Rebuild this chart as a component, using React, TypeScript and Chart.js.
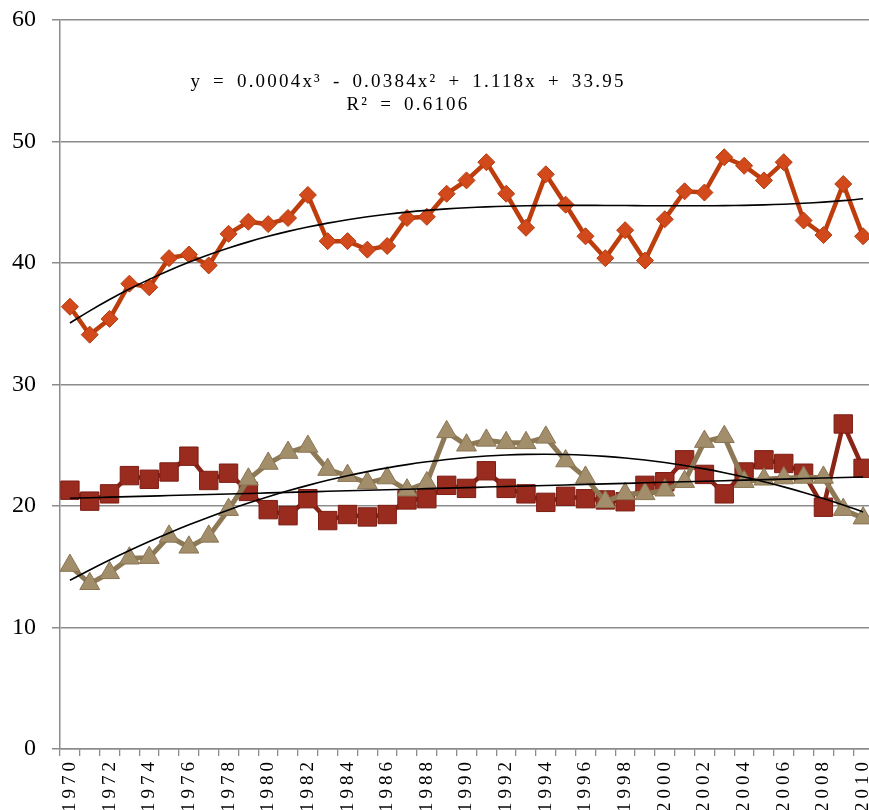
import React, { useEffect, useRef } from "react";
import { Chart, registerables, CategoryScale } from "chart.js";

Chart.register(...registerables);

// ---------- data ----------
const years = [
  "1970", "1971", "1972", "1973", "1974", "1975", "1976", "1977", "1978", "1979",
  "1980", "1981", "1982", "1983", "1984", "1985", "1986", "1987", "1988", "1989",
  "1990", "1991", "1992", "1993", "1994", "1995", "1996", "1997", "1998", "1999",
  "2000", "2001", "2002", "2003", "2004", "2005", "2006", "2007", "2008", "2009",
  "2010",
];

const seriesOrange = [
  36.4, 34.1, 35.4, 38.3, 38.0, 40.4, 40.7, 39.8, 42.4, 43.4,
  43.2, 43.7, 45.6, 41.8, 41.8, 41.1, 41.4, 43.7, 43.8, 45.7,
  46.8, 48.3, 45.7, 42.9, 47.3, 44.8, 42.2, 40.4, 42.7, 40.2,
  43.6, 45.9, 45.8, 48.7, 48.0, 46.8, 48.3, 43.5, 42.3, 46.5,
  42.2,
];

const seriesRed = [
  21.3, 20.4, 21.0, 22.5, 22.2, 22.8, 24.1, 22.1, 22.7, 21.2,
  19.7, 19.2, 20.6, 18.8, 19.3, 19.1, 19.3, 20.5, 20.6, 21.7,
  21.45, 22.9, 21.45, 21.0, 20.3, 20.8, 20.6, 20.5, 20.35, 21.7,
  22.0, 23.8, 22.6, 21.0, 22.8, 23.8, 23.5, 22.7, 19.9, 26.75,
  23.1,
];

const seriesTan = [
  15.1, 13.6, 14.5, 15.7, 15.75, 17.5, 16.6, 17.5, 19.7, 22.2,
  23.5, 24.4, 24.9, 23.0, 22.5, 21.9, 22.3, 21.3, 21.9, 26.1,
  25.0, 25.4, 25.2, 25.2, 25.65, 23.7, 22.35, 20.35, 21.0, 21.0,
  21.3, 22.0, 25.3, 25.7, 22.0, 22.2, 22.3, 22.35, 22.35, 19.7,
  19.0,
];

const yTickValues = [0, 10, 20, 30, 40, 50, 60];

const equationLines = [
  "y = 0.0004x\u00B3 - 0.0384x\u00B2 + 1.118x + 33.95",
  "R\u00B2 = 0.6106",
];

// ---------- helpers ----------
function polyfit(ys: number[], degree: number): number[] {
  const n = degree + 1;
  const A: number[][] = Array.from({ length: n }, () => new Array(n + 1).fill(0));
  ys.forEach((y, i) => {
    const x = i + 1;
    for (let r = 0; r < n; r++) {
      for (let c = 0; c < n; c++) A[r][c] += Math.pow(x, r + c);
      A[r][n] += y * Math.pow(x, r);
    }
  });
  for (let col = 0; col < n; col++) {
    let piv = col;
    for (let r = col + 1; r < n; r++) if (Math.abs(A[r][col]) > Math.abs(A[piv][col])) piv = r;
    [A[col], A[piv]] = [A[piv], A[col]];
    for (let r = 0; r < n; r++) {
      if (r === col) continue;
      const f = A[r][col] / A[col][col];
      for (let c = col; c <= n; c++) A[r][c] -= f * A[col][c];
    }
  }
  return A.map((row, i) => row[n] / row[i]);
}

function trend(ys: number[], degree: number): number[] {
  const coef = polyfit(ys, degree);
  return ys.map((_, i) => coef.reduce((s, c, k) => s + c * Math.pow(i + 1, k), 0));
}

class SpacedCategoryScale extends CategoryScale {
  static id = "spacedCategory";
  static defaults = CategoryScale.defaults;
  _calculatePadding() {
    const s: any = this;
    s.paddingLeft = 0;
    s.paddingRight = 0;
    s.paddingTop = 0;
    s.paddingBottom = 0;
  }
  drawLabels(area: any) {
    const ctx: any = (this as any).ctx;
    ctx.save();
    ctx.letterSpacing = "4px";
    // @ts-ignore
    super.drawLabels(area);
    ctx.restore();
  }
}
Chart.register(SpacedCategoryScale as any);

const FONT = "'Liberation Serif', 'Times New Roman', serif";
const GRID = "#8c8c8c";

const equationPlugin = {
  id: "equation",
  afterDraw(chart: any) {
    const ctx = chart.ctx;
    ctx.save();
    ctx.font = `19px ${FONT}`;
    (ctx as any).letterSpacing = "2.2px";
    (ctx as any).wordSpacing = "4px";
    ctx.fillStyle = "#000";
    ctx.textAlign = "center";
    ctx.textBaseline = "alphabetic";
    ctx.fillText(equationLines[0], 408, 87);
    ctx.fillText(equationLines[1], 408, 110);
    ctx.restore();
  },
};

export default function App() {
  const ref = useRef<HTMLCanvasElement | null>(null);

  useEffect(() => {
    document.body.style.margin = "0";
    document.body.style.overflow = "hidden";
    const canvas = ref.current;
    if (!canvas) return;

    const trendStyle = {
      type: "line" as const,
      borderColor: "#000",
      borderWidth: 1.6,
      pointRadius: 0,
      pointHoverRadius: 0,
      fill: false,
      tension: 0.4,
      order: 0,
      clip: false as any,
    };

    const chart = new Chart(canvas, {
      type: "line",
      data: {
        labels: years,
        datasets: [
          {
            label: "orange",
            data: seriesOrange,
            borderColor: "#BE3D0D",
            borderWidth: 4.5,
            backgroundColor: "#D24A1B",
            pointStyle: "rectRot",
            pointRadius: 8.5,
            pointBackgroundColor: "#D24A1B",
            pointBorderColor: "#B33A0E",
            pointBorderWidth: 1,
            order: 1,
            clip: false as any,
          },
          {
            label: "tan",
            data: seriesTan,
            borderColor: "#8E7956",
            borderWidth: 5,
            backgroundColor: "#A38E6C",
            pointStyle: "triangle",
            pointRadius: 11.5,
            pointBackgroundColor: "#A38E6C",
            pointBorderColor: "#8A7553",
            pointBorderWidth: 1,
            order: 2,
            clip: false as any,
          },
          {
            label: "red",
            data: seriesRed,
            borderColor: "#8A2417",
            borderWidth: 4.5,
            backgroundColor: "#9A2B1F",
            pointStyle: "rect",
            pointRadius: 13,
            pointBackgroundColor: "#9A2B1F",
            pointBorderColor: "#7C1E14",
            pointBorderWidth: 1,
            order: 3,
            clip: false as any,
          },
          { ...trendStyle, label: "trendOrange", data: trend(seriesOrange, 3) },
          { ...trendStyle, label: "trendTan", data: trend(seriesTan, 2) },
          { ...trendStyle, label: "trendRed", data: trend(seriesRed, 1) },
        ],
      },
      options: {
        responsive: false,
        animation: false,
        devicePixelRatio: 1,
        layout: { autoPadding: false, padding: { top: 20, left: 0, right: 0, bottom: 0 } },
        plugins: {
          legend: { display: false },
          tooltip: { enabled: false },
        },
        scales: {
          x: {
            type: "spacedCategory" as any,
            offset: true,
            grid: {
              display: true,
              drawOnChartArea: false,
              drawTicks: true,
              tickLength: 7,
              offset: true,
              color: GRID,
              lineWidth: 1.3,
            },
            border: { display: true, color: GRID, width: 1.5 },
            ticks: {
              autoSkip: false,
              maxRotation: 90,
              minRotation: 90,
              padding: 2,
              color: "#000",
              font: { family: FONT, size: 19 },
              callback: (_v: any, i: number) => (i % 2 === 0 ? years[i] : ""),
            },
            afterFit: (s: any) => {
              s.height = 61;
              s.paddingLeft = 0;
              s.paddingRight = 0;
            },
          } as any,
          y: {
            min: yTickValues[0],
            max: yTickValues[yTickValues.length - 1],
            afterBuildTicks: (s: any) => {
              s.ticks = yTickValues.map((v) => ({ value: v }));
            },
            grid: {
              color: GRID,
              lineWidth: 1.5,
              drawTicks: true,
              tickLength: 8,
            },
            border: { display: true, color: GRID, width: 1.5 },
            ticks: {
              padding: 16,
              color: "#000",
              font: { family: FONT, size: 24 },
            },
            afterFit: (s: any) => {
              s.width = 60;
              s.paddingTop = 0;
              s.paddingBottom = 0;
            },
          },
        },
      },
      plugins: [equationPlugin],
    });

    return () => chart.destroy();
  }, []);

  return (
    <div style={{ width: 869, height: 810, overflow: "hidden" }}>
      <canvas ref={ref} width={873} height={810} style={{ width: 873, height: 810, display: "block" }} />
    </div>
  );
}
